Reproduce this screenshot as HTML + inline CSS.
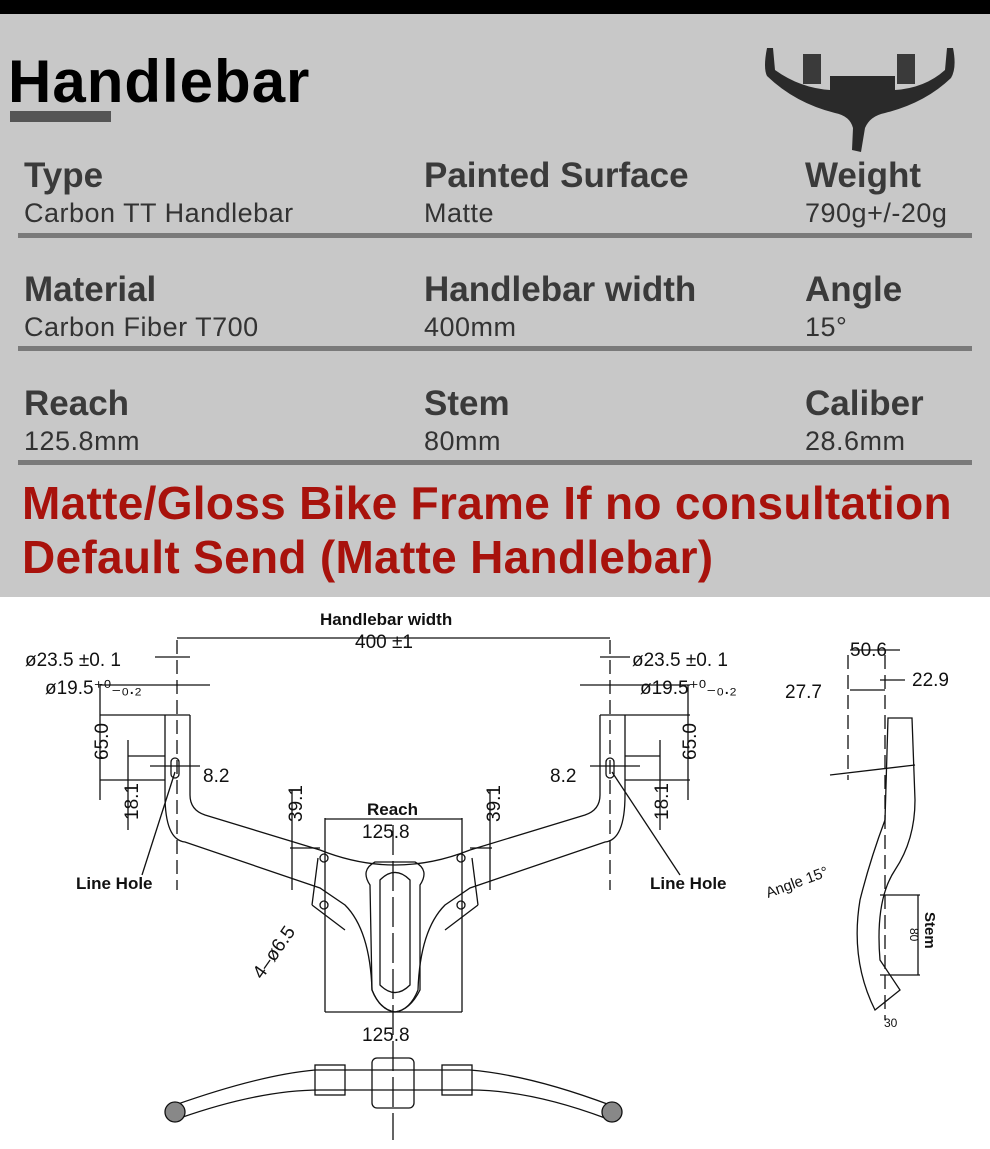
<!DOCTYPE html>
<html><head><meta charset="utf-8"><style>
body{margin:0;width:990px;height:1149px;overflow:hidden;background:#fff;font-family:"Liberation Sans",sans-serif}
.top{position:absolute;left:0;top:0;width:990px;height:14px;background:#000}
.gray{position:absolute;left:0;top:14px;width:990px;height:583px;background:#c8c8c8}
.t{position:absolute;white-space:nowrap;line-height:1}
.h{font-weight:bold;font-size:35px;color:#3a3a3a}
.v{font-size:27px;color:#333;letter-spacing:0.5px}
.sep{position:absolute;left:18px;width:954px;height:5px;background:#7a7a7a}
.red{position:absolute;left:22px;font-weight:bold;font-size:46px;color:#a8120c;white-space:nowrap;line-height:1;letter-spacing:0.3px}
</style></head><body>
<div class="top"></div>
<div class="gray">
<div class="t" style="left:8px;top:38px;font-size:60px;font-weight:bold;color:#000;letter-spacing:1px">Handlebar</div>
<div style="position:absolute;left:10px;top:97px;width:101px;height:11px;background:#555"></div>
<svg style="position:absolute;left:755px;top:14px" width="230" height="130">
<path d="M12 20 Q8 40 12 48 Q40 75 80 85 Q95 88 98 100 L97 122 L106 124 L110 100 Q115 88 130 85 Q170 75 196 50 Q202 40 198 20 L192 20 L190 42 Q170 60 140 62 L140 48 L75 48 L75 62 Q45 60 20 42 L18 20Z" fill="#2a2a2a"/>
<rect x="48" y="26" width="18" height="30" fill="#3a3a3a"/><rect x="142" y="26" width="18" height="30" fill="#3a3a3a"/>
</svg>
</div>
<div class="t h" style="left:24px;top:158px">Type</div>
<div class="t v" style="left:24px;top:200px">Carbon TT Handlebar</div>
<div class="t h" style="left:424px;top:158px">Painted Surface</div>
<div class="t v" style="left:424px;top:200px">Matte</div>
<div class="t h" style="left:805px;top:158px">Weight</div>
<div class="t v" style="left:805px;top:200px">790g+/-20g</div>
<div class="sep" style="top:233px"></div>
<div class="t h" style="left:24px;top:272px">Material</div>
<div class="t v" style="left:24px;top:314px">Carbon Fiber T700</div>
<div class="t h" style="left:424px;top:272px">Handlebar width</div>
<div class="t v" style="left:424px;top:314px">400mm</div>
<div class="t h" style="left:805px;top:272px">Angle</div>
<div class="t v" style="left:805px;top:314px">15°</div>
<div class="sep" style="top:346px"></div>
<div class="t h" style="left:24px;top:386px">Reach</div>
<div class="t v" style="left:24px;top:428px">125.8mm</div>
<div class="t h" style="left:424px;top:386px">Stem</div>
<div class="t v" style="left:424px;top:428px">80mm</div>
<div class="t h" style="left:805px;top:386px">Caliber</div>
<div class="t v" style="left:805px;top:428px">28.6mm</div>
<div class="sep" style="top:460px"></div>
<div class="red" style="top:480px">Matte/Gloss Bike Frame If no consultation</div>
<div class="red" style="top:534px">Default Send (Matte Handlebar)</div>

<svg style="position:absolute;left:0;top:0" width="990" height="1149" font-family="Liberation Sans,sans-serif" fill="none" stroke="#111" stroke-width="1.3">
<path d="M165 715 L165 795 Q165 840 185 842 L320 888 L345 905 Q370 930 372 990 Q380 1010 395 1012 Q410 1010 418 990 Q420 930 445 905 L470 888 L605 842 Q625 840 625 795 L625 715"/>
<path d="M190 715 L190 795 Q190 810 205 815 L320 850 Q395 880 470 850 L585 815 Q600 810 600 795 L600 715"/>
<line x1="165" y1="715" x2="190" y2="715"/><line x1="600" y1="715" x2="625" y2="715"/>
<path d="M370 885 Q360 870 375 862 L415 862 Q430 870 420 885 L420 990 Q410 1010 395 1012 Q380 1010 372 990Z"/>
<path d="M380 880 Q395 865 410 880 L410 985 Q395 1000 380 985Z"/>
<path d="M318 858 L312 905 M472 858 L478 905 M312 905 L345 930 M478 905 L445 930"/>
<circle cx="324" cy="858" r="4"/><circle cx="461" cy="858" r="4"/><circle cx="324" cy="905" r="4"/><circle cx="461" cy="905" r="4"/>
<rect x="171" y="758" width="8" height="20" rx="4"/><rect x="606" y="758" width="8" height="20" rx="4"/>
<line x1="177" y1="640" x2="177" y2="890" stroke-dasharray="14,6"/>
<line x1="610" y1="640" x2="610" y2="890" stroke-dasharray="14,6"/>
<line x1="393" y1="825" x2="393" y2="1140" stroke-dasharray="30,6"/>
<line x1="177" y1="638" x2="610" y2="638"/>
<line x1="155" y1="657" x2="190" y2="657"/><line x1="600" y1="657" x2="630" y2="657"/>
<line x1="100" y1="685" x2="210" y2="685"/><line x1="580" y1="685" x2="690" y2="685"/>
<line x1="100" y1="715" x2="165" y2="715"/><line x1="625" y1="715" x2="690" y2="715"/>
<line x1="100" y1="685" x2="100" y2="800"/><line x1="688" y1="685" x2="688" y2="800"/>
<line x1="100" y1="780" x2="165" y2="780"/><line x1="625" y1="780" x2="690" y2="780"/>
<line x1="128" y1="740" x2="128" y2="830"/><line x1="660" y1="740" x2="660" y2="830"/>
<line x1="128" y1="756" x2="165" y2="756"/><line x1="625" y1="756" x2="660" y2="756"/>
<line x1="150" y1="766" x2="200" y2="766"/><line x1="590" y1="766" x2="640" y2="766"/>
<line x1="292" y1="790" x2="292" y2="890"/><line x1="490" y1="790" x2="490" y2="890"/>
<line x1="290" y1="848" x2="320" y2="848"/><line x1="470" y1="848" x2="492" y2="848"/>
<line x1="325" y1="818" x2="325" y2="1012"/><line x1="462" y1="818" x2="462" y2="1012"/>
<line x1="325" y1="819" x2="462" y2="819"/><line x1="325" y1="1012" x2="462" y2="1012"/>
<line x1="142" y1="875" x2="175" y2="772"/><line x1="680" y1="875" x2="612" y2="772"/>
<path d="M175 1105 Q260 1075 315 1070 L470 1070 Q530 1075 610 1105 M180 1118 Q260 1090 320 1090 L470 1090 Q530 1090 605 1118"/>
<circle cx="175" cy="1112" r="10" fill="#888"/><circle cx="612" cy="1112" r="10" fill="#888"/>
<rect x="372" y="1058" width="42" height="50" rx="5"/><rect x="315" y="1065" width="30" height="30"/><rect x="442" y="1065" width="30" height="30"/>
<line x1="885" y1="655" x2="885" y2="1020" stroke-dasharray="14,6"/>
<line x1="848" y1="655" x2="848" y2="780" stroke-dasharray="14,6"/>
<line x1="850" y1="650" x2="900" y2="650"/><line x1="850" y1="690" x2="885" y2="690"/><line x1="880" y1="680" x2="905" y2="680"/>
<path d="M888 718 L912 718 L915 800 Q915 840 895 870 Q875 900 880 960 L900 990 L875 1010 Q850 960 860 900 Q870 860 885 820 Z"/>
<line x1="830" y1="775" x2="915" y2="765"/>
<line x1="880" y1="895" x2="920" y2="895"/><line x1="880" y1="975" x2="920" y2="975"/><line x1="918" y1="895" x2="918" y2="975"/>
<g fill="#111" stroke="none" font-size="19">
<text x="320" y="625" font-size="17" font-weight="bold">Handlebar width</text>
<text x="355" y="648">400 ±1</text>
<text x="25" y="666">ø23.5 ±0. 1</text>
<text x="45" y="694">ø19.5⁺⁰₋₀.₂</text>
<text x="632" y="666">ø23.5 ±0. 1</text>
<text x="640" y="694">ø19.5⁺⁰₋₀.₂</text>
<text x="203" y="782">8.2</text><text x="550" y="782">8.2</text>
<text x="367" y="815" font-size="17" font-weight="bold">Reach</text>
<text x="362" y="838">125.8</text><text x="362" y="1041">125.8</text>
<text x="76" y="889" font-size="17" font-weight="bold">Line Hole</text>
<text x="650" y="889" font-size="17" font-weight="bold">Line Hole</text>
<text x="850" y="656">50.6</text><text x="785" y="698">27.7</text><text x="912" y="686">22.9</text>
<text transform="translate(108,760) rotate(-90)">65.0</text>
<text transform="translate(696,760) rotate(-90)">65.0</text>
<text transform="translate(138,820) rotate(-90)">18.1</text>
<text transform="translate(668,820) rotate(-90)">18.1</text>
<text transform="translate(302,822) rotate(-90)">39.1</text>
<text transform="translate(500,822) rotate(-90)">39.1</text>
<text transform="translate(262,980) rotate(-55)">4–ø6.5</text>
<text transform="translate(768,898) rotate(-20)" font-size="15">Angle 15°</text>
<text transform="translate(925,912) rotate(90)" font-size="15" font-weight="bold">Stem</text>
<text transform="translate(910,928) rotate(90)" font-size="12">80</text>
<text x="884" y="1027" font-size="12">30</text>
</g>
</svg>
</body></html>
